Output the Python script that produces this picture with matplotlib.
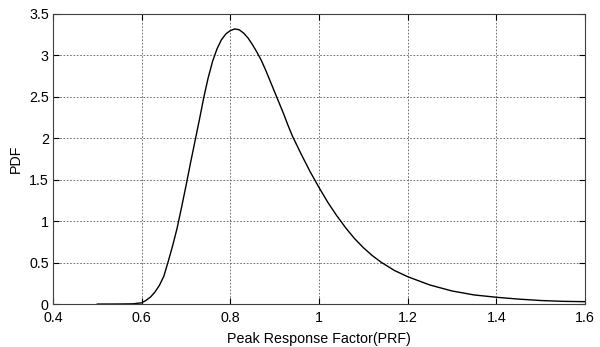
import matplotlib
matplotlib.use("Agg")
import matplotlib.pyplot as plt

# Probability density of the peak response factor
prf = [0.50, 0.55, 0.58, 0.60, 0.61, 0.62, 0.63, 0.64, 0.65, 0.66, 0.67, 0.68,
       0.69, 0.70, 0.71, 0.72, 0.73, 0.74, 0.75, 0.76, 0.77, 0.78, 0.79, 0.80,
       0.81, 0.82, 0.83, 0.84, 0.85, 0.86, 0.87, 0.88, 0.89, 0.90, 0.91, 0.92,
       0.93, 0.94, 0.96, 0.98, 1.00, 1.02, 1.04, 1.06, 1.08, 1.10, 1.12, 1.14,
       1.17, 1.20, 1.25, 1.30, 1.35, 1.40, 1.45, 1.50, 1.55, 1.60]
pdf = [0.005, 0.006, 0.008, 0.02, 0.05, 0.09, 0.15, 0.23, 0.34, 0.52, 0.71, 0.92,
       1.17, 1.43, 1.70, 1.96, 2.22, 2.49, 2.73, 2.93, 3.08, 3.19, 3.26, 3.30,
       3.32, 3.31, 3.27, 3.21, 3.13, 3.04, 2.94, 2.82, 2.69, 2.56, 2.43, 2.30,
       2.16, 2.03, 1.81, 1.60, 1.41, 1.23, 1.07, 0.925, 0.795, 0.685, 0.59, 0.51,
       0.41, 0.335, 0.235, 0.163, 0.115, 0.087, 0.065, 0.048, 0.038, 0.034]

x_ticks = [0.4, 0.6, 0.8, 1.0, 1.2, 1.4, 1.6]
x_tick_labels = ["0.4", "0.6", "0.8", "1", "1.2", "1.4", "1.6"]
y_ticks = [0, 0.5, 1, 1.5, 2, 2.5, 3, 3.5]
y_tick_labels = ["0", "0.5", "1", "1.5", "2", "2.5", "3", "3.5"]

plt.rcParams["font.family"] = ["Liberation Sans", "DejaVu Sans"]

fig = plt.figure(figsize=(6.0, 3.47), dpi=100)
ax = fig.add_axes([0.0883, 0.1225, 0.8867, 0.8372])

ax.plot(prf, pdf, color="black", linewidth=1.0)

ax.set_xlim(0.4, 1.6)
ax.set_ylim(0, 3.5)
ax.set_xticks(x_ticks)
ax.set_xticklabels(x_tick_labels)
ax.set_yticks(y_ticks)
ax.set_yticklabels(y_tick_labels)

ax.grid(True, color="0.35", linestyle=(0, (2, 2)), linewidth=0.6)
ax.tick_params(direction="in", length=4, width=0.8, labelsize=10.3,
               top=True, right=True)
ax.tick_params(axis="x", pad=5)
ax.tick_params(axis="y", pad=3)
for s in ax.spines.values():
    s.set_linewidth(0.8)
    s.set_color("0.25")

ax.set_xlabel("Peak Response Factor(PRF)", fontsize=10.3, labelpad=4.5)
ax.set_ylabel("PDF", fontsize=10.3, labelpad=4.5)

fig.savefig("out.png", dpi=100)
